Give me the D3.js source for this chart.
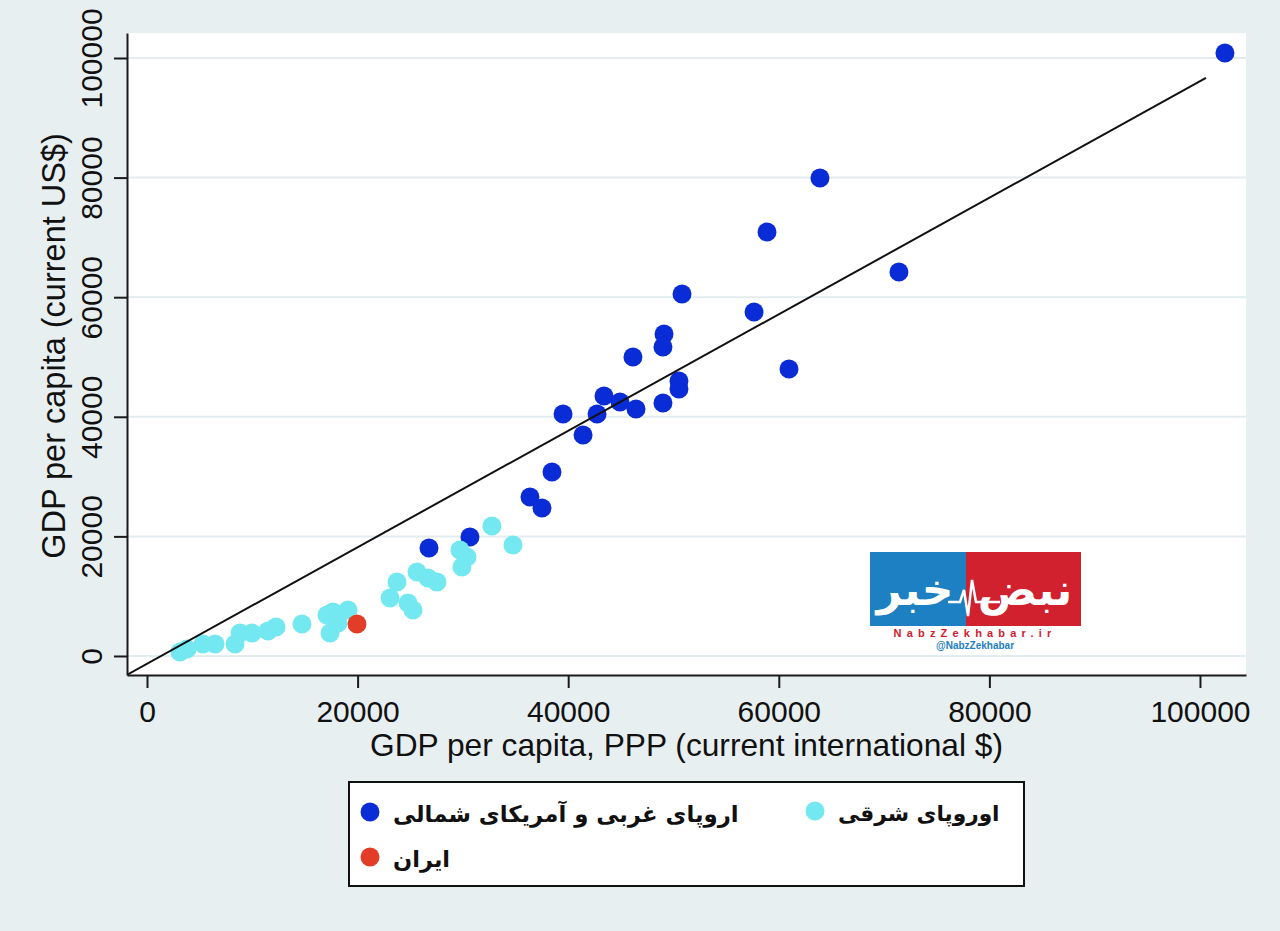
<!DOCTYPE html>
<html>
<head>
<meta charset="utf-8">
<script src="https://d3js.org/d3.v7.min.js"></script>
<style>
  body { margin: 0; background: #e8eff1; }
  svg text { font-family: "Liberation Sans", Arial, Helvetica, sans-serif; }
  .fa { font-family: "DejaVu Sans", sans-serif; font-weight: bold; }
</style>
</head>
<body>
<script>
// GDP per capita, PPP (x) vs GDP per capita, current US$ (y)
var westX = [102370, 63910, 58880, 71410, 50810, 57650, 49100, 49000, 46150, 60970,
             50520, 50520, 43400, 44920, 46440, 49000, 39510, 42740, 41410, 38460,
             36370, 37510, 26780, 30670];
var westY = [100840, 79930, 70900, 64210, 60540, 57530, 53850, 51670, 50000, 47990,
             45990, 44650, 43480, 42470, 41300, 42310, 40470, 40470, 36960, 30770,
             26590, 24750, 18060, 19900];

var eastX = [3130, 3800, 5320, 6460, 8360, 8830, 9970, 11490, 12250, 14720,
             17090, 17660, 19090, 17380, 18140, 23080, 23740, 24790, 25260, 25640,
             26690, 27540, 29720, 30390, 29910, 32760, 34760];
var eastY = [670, 1170, 2010, 2010, 2010, 3850, 3850, 4180, 4850, 5350,
             6860, 7360, 7690, 3850, 5520, 9700, 12370, 8860, 7690, 14050,
             13040, 12370, 17730, 16560, 14880, 21740, 18560];

var iranX = [19940];
var iranY = [5350];

// fitted line end points
var fitX = [-1900, 100570];
var fitY = [-3150, 96660];

var xTicks = [0, 20000, 40000, 60000, 80000, 100000];
var yTicks = [0, 20000, 40000, 60000, 80000, 100000];

var legendLabels = ["اروپای غربی و آمریکای شمالی", "اوروپای شرقی", "ایران"];

var W = 1280, H = 931;
var pLeft = 127, pRight = 1246, pTop = 33, pBottom = 675;

var svg = d3.select("body").append("svg")
    .attr("width", W)
    .attr("height", H);

svg.append("rect").attr("width", W).attr("height", H).attr("fill", "#e8eff1");
svg.append("rect")
    .attr("x", pLeft).attr("y", pTop)
    .attr("width", pRight - pLeft).attr("height", pBottom - pTop)
    .attr("fill", "#fff");

var x = d3.scaleLinear().domain([-1900, 104370]).range([pLeft, pRight]);
var y = d3.scaleLinear().domain([-3180, 104180]).range([pBottom, pTop]);

// grid
svg.append("g").selectAll("line")
    .data(yTicks)
  .enter().append("line")
    .attr("x1", pLeft).attr("x2", pRight)
    .attr("y1", function(d) { return y(d); })
    .attr("y2", function(d) { return y(d); })
    .attr("stroke", "#e3ecef")
    .attr("stroke-width", 2);

svg.append("defs").append("clipPath").attr("id", "clip")
  .append("rect")
    .attr("x", pLeft).attr("y", pTop)
    .attr("width", pRight - pLeft).attr("height", pBottom - pTop);

var plot = svg.append("g").attr("clip-path", "url(#clip)");

function dots(xs, ys, color) {
  plot.append("g").selectAll("circle")
      .data(xs)
    .enter().append("circle")
      .attr("cx", function(d) { return x(d); })
      .attr("cy", function(d, i) { return y(ys[i]); })
      .attr("r", 9.5)
      .attr("fill", color);
}
dots(westX, westY, "#0a2cd6");
dots(eastX, eastY, "#74e8f0");
dots(iranX, iranY, "#e33d28");

plot.append("line")
    .attr("x1", x(fitX[0])).attr("y1", y(fitY[0]))
    .attr("x2", x(fitX[1])).attr("y2", y(fitY[1]))
    .attr("stroke", "#111")
    .attr("stroke-width", 2);

// axes
var xAxis = svg.append("g")
    .attr("transform", "translate(0," + pBottom + ")")
    .call(d3.axisBottom(x).tickValues(xTicks).tickFormat(d3.format("d")).tickSize(13).tickSizeOuter(0));
xAxis.selectAll("text")
    .attr("y", 47).attr("dy", 0)
    .style("font-size", "30px");

var yAxis = svg.append("g")
    .attr("transform", "translate(" + pLeft + ",0)")
    .call(d3.axisLeft(y).tickValues(yTicks).tickFormat(d3.format("d")).tickSize(13).tickSizeOuter(0));
yAxis.selectAll("text")
    .attr("transform", "rotate(-90)")
    .attr("x", 0).attr("y", -25).attr("dy", 0)
    .attr("text-anchor", "middle")
    .style("font-size", "30px");

svg.selectAll(".domain, .tick line")
    .attr("stroke", "#1a1a1a")
    .attr("stroke-width", 2);
svg.selectAll(".tick text").attr("fill", "#111");
svg.selectAll("g").attr("font-family", null);

svg.append("text")
    .attr("x", (pLeft + pRight) / 2).attr("y", 756)
    .attr("text-anchor", "middle")
    .attr("fill", "#111")
    .style("font-size", "31.7px")
    .text("GDP per capita, PPP (current international $)");

svg.append("text")
    .attr("transform", "translate(65,346) rotate(-90)")
    .attr("text-anchor", "middle")
    .attr("fill", "#111")
    .style("font-size", "32.5px")
    .text("GDP per capita (current US$)");

// logo
var logo = svg.append("g");
logo.append("rect").attr("x", 870).attr("y", 552).attr("width", 96).attr("height", 74).attr("fill", "#1d80c2");
logo.append("rect").attr("x", 966).attr("y", 552).attr("width", 115).attr("height", 74).attr("fill", "#d1202e");
logo.append("text").attr("class", "fa").attr("x", 915).attr("y", 605)
    .attr("text-anchor", "middle").style("font-size", "44px").attr("fill", "#fff").text("خبر");
logo.append("text").attr("class", "fa").attr("x", 1025).attr("y", 605)
    .attr("text-anchor", "middle").style("font-size", "44px").attr("fill", "#fff").text("نبض");
logo.append("path")
    .attr("d", "M948,602 L960,602 L964,590 L968,616 L972,580 L976,602 L1000,602")
    .attr("fill", "none").attr("stroke", "#fff").attr("stroke-width", 2.5);
logo.append("text").attr("x", 975).attr("y", 637).attr("text-anchor", "middle")
    .style("font-size", "11px").style("font-weight", "bold").style("letter-spacing", "5.2px")
    .attr("fill", "#d1202e").text("NabzZekhabar.ir");
logo.append("text").attr("x", 975).attr("y", 649).attr("text-anchor", "middle")
    .style("font-size", "10px").style("font-weight", "bold")
    .attr("fill", "#1d80c2").text("@NabzZekhabar");

// legend
svg.append("rect")
    .attr("x", 349).attr("y", 782).attr("width", 675).attr("height", 104)
    .attr("fill", "#fff").attr("stroke", "#111").attr("stroke-width", 2);

var legendItems = [
  { label: legendLabels[0], color: "#0a2cd6", cx: 370, cy: 812, w: 345 },
  { label: legendLabels[1], color: "#74e8f0", cx: 815, cy: 811, w: 162 },
  { label: legendLabels[2], color: "#e33d28", cx: 370, cy: 857, w: 57 }
];
legendItems.forEach(function(d) {
  svg.append("circle").attr("cx", d.cx).attr("cy", d.cy).attr("r", 9.5).attr("fill", d.color);
  var t = svg.append("text").attr("class", "fa")
      .attr("x", d.cx + 23).attr("y", d.cy + 10)
      .attr("fill", "#111")
      .style("font-size", "26px")
      .text(d.label);
  var len = t.node().getComputedTextLength();
  t.style("font-size", (26 * d.w / len).toFixed(1) + "px");
});
</script>
</body>
</html>
